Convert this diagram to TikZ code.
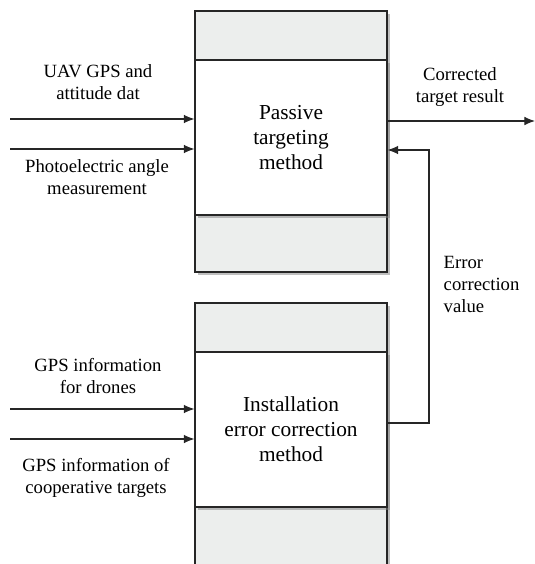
\documentclass[tikz,border=0pt]{standalone}
\usepackage{fontspec}
\setmainfont{Liberation Serif}
\newfontfamily\figfont{Liberation Serif}
\usetikzlibrary{positioning, arrows.meta, shadows}
\definecolor{boxgray}{RGB}{236,238,237}

\begin{document}
\begin{tikzpicture}[x=0.75pt, y=-0.75pt, >={Latex[length=8pt, width=6.5pt]},
    frame/.style={draw=black!85, line width=0.8pt, fill=boxgray, minimum width=144pt,
        drop shadow={shadow xshift=2.5pt, shadow yshift=-2.5pt, opacity=0.5}},
    core/.style={frame, fill=white, minimum height=116.25pt, align=center,
        font=\figfont\fontsize{16}{18.75}\selectfont},
    lbl/.style={align=center, font=\figfont\fontsize{14}{16.5}\selectfont},
    link/.style={draw=black!85, line width=0.8pt}]
    \useasboundingbox (0,0) rectangle (535,564);

    % blocks
    \node[frame, minimum height=195.75pt] (passbg) at (291,141.5) {};
    \node[core] (pass) at (291,137.5) {Passive\\targeting\\method};
    \node[frame, minimum height=200.25pt] (instbg) at (291,436.5) {};
    \node[core] (inst) at (291,429.5) {Installation\\error correction\\method};

    % labels
    \node[lbl] (uav) at (98,82) {UAV GPS and\\attitude dat};
    \node[lbl] (photo) at (97,177) {Photoelectric angle\\measurement};
    \node[lbl] (res) at (460,87) {Corrected\\target result};
    \node[lbl, align=left, anchor=west] (err) at (439,284) {Error\\correction\\value};
    \node[lbl] (drone) at (98,376) {GPS information\\for drones};
    \node[lbl] (coop) at (96,478) {GPS information of\\cooperative targets};

    % free ends
    \coordinate (in1) at (10,119);
    \coordinate (in2) at (10,149);
    \coordinate (in3) at (10,409);
    \coordinate (in4) at (10,439);
    \coordinate (out) at (535,121);
    \coordinate (fbbot) at (429,423);
    \coordinate (fbtop) at (429,150);

    \draw[link, ->] (in1) -- (pass.west |- in1);
    \draw[link, ->] (in2) -- (pass.west |- in2);
    \draw[link, ->] (in3) -- (inst.west |- in3);
    \draw[link, ->] (in4) -- (inst.west |- in4);
    \draw[link, ->] (pass.east |- out) -- (out);
    \draw[link, ->] (inst.east |- fbbot) -- (fbbot) -- (fbtop) -- (pass.east |- fbtop);
\end{tikzpicture}
\end{document}
